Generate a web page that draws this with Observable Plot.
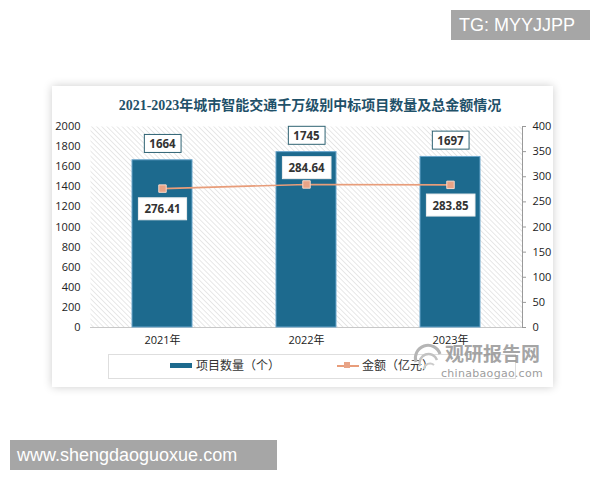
<!DOCTYPE html>
<html>
<head>
<meta charset="utf-8">
<script src="https://cdn.jsdelivr.net/npm/d3@7"></script>
<script src="https://cdn.jsdelivr.net/npm/@observablehq/plot@0.6"></script>
<style>
  body { margin: 0; background: #fff; }
  #wrap { position: relative; width: 600px; height: 480px; overflow: hidden; font-family: "Noto Sans CJK SC", "Open Sans", sans-serif; }
  #card { position: absolute; left: 52px; top: 86px; width: 501px; height: 301px; background: #fff; box-shadow: 0 0 9px rgba(0,0,0,0.2); }
  #title { position: absolute; left: 52px; width: 516px; top: 94px; text-align: center; font: bold 14px "Liberation Serif", "Noto Sans CJK SC", serif; color: #1f5169; white-space: nowrap; }
  #chart { position: absolute; left: 0; top: 0; }
  #legendbox { position: absolute; left: 108px; top: 354px; width: 406px; height: 23px; border: 1px solid #dedede; }
  .lg { position: absolute; font-size: 12px; color: #333; line-height: 14px; }
  .wm { position: absolute; background: #a6a6a6; color: #fff; font-family: "Liberation Sans", Arial, sans-serif; font-size: 18px; line-height: 30px; }
  #brand { position: absolute; left: 445px; top: 341px; font: bold 19px "Noto Sans CJK SC", sans-serif; line-height: 24px; color: #8f8f8f; opacity: 0.8; }
  #brand2 { position: absolute; left: 441px; top: 367px; font: 11px "DejaVu Sans", sans-serif; line-height: 13px; color: #9d9d9d; letter-spacing: 0.3px; }
</style>
</head>
<body>
<div id="wrap">
  <div id="card"></div>
  <div id="title">2021-2023年城市智能交通千万级别中标项目数量及总金额情况</div>
  <div id="legendbox"></div>
  <div id="chart"></div>
  <div id="legend"></div>
  <div id="brand">观研报告网</div>
  <div id="brand2">chinabaogao.com</div>
  <svg style="position:absolute;left:410px;top:340px" width="36" height="36">
    <path d="M6,22 A12,12 0 0 1 30,14" fill="none" stroke="#b5b5b5" stroke-width="3"/>
    <path d="M10,26 A9,9 0 0 1 27,20" fill="none" stroke="#c2c2c2" stroke-width="2.5"/>
    <path d="M14,29 A6,6 0 0 1 24,25" fill="none" stroke="#cccccc" stroke-width="2"/>
  </svg>
  <div class="wm" style="left:451px;top:10px;width:139px;padding-left:8px;box-sizing:border-box;">TG: MYYJJPP</div>
  <div class="wm" style="left:10px;top:440px;width:267px;padding-left:7px;box-sizing:border-box;">www.shengdaoguoxue.com</div>
</div>
<script>
const years = ["2021年", "2022年", "2023年"];
const counts = [1664, 1745, 1697];
const amounts = [276.41, 284.64, 283.85];
const leftTicks = [0, 200, 400, 600, 800, 1000, 1200, 1400, 1600, 1800, 2000];
const rightTicks = [0, 50, 100, 150, 200, 250, 300, 350, 400];
const countLabel = "项目数量（个）";
const amountLabel = "金额（亿元）";

const ratio = 2000 / 400;
const data = years.map((year, i) => ({year, count: counts[i], amount: amounts[i]}));

const barColor = "#1d6a8e";
const lineColor = "#e89d7a";

const plot = Plot.plot({
  width: 600,
  height: 480,
  marginLeft: 90,
  marginRight: 78,
  marginTop: 126,
  marginBottom: 153,
  style: {background: "transparent", fontFamily: "'Open Sans', 'Noto Sans CJK SC', sans-serif", fontSize: "11px", color: "#333"},
  x: {domain: years, paddingInner: 0.58, paddingOuter: 0.29, label: null},
  y: {domain: [0, 2000], label: null},
  marks: [
    Plot.frame({fill: "url(#hatch)", stroke: null}),
    Plot.frame({anchor: "right", stroke: "#999"}),
    Plot.ruleY([0], {stroke: "#c8c8c8"}),
    Plot.barY(data, {x: "year", y: "count", fill: barColor, stroke: "#6aa6cc", strokeWidth: 1}),
    Plot.axisX({tickSize: 0, tickPadding: 9, fontSize: 11, fill: "#222"}),
    Plot.axisY(leftTicks, {tickSize: 0, tickPadding: 10, fill: "#222", tickFormat: d => String(d)}),
    Plot.axisY(rightTicks.map(v => v * ratio), {anchor: "right", tickSize: 3, tickPadding: 7, stroke: "#999", fill: "#222", tickFormat: d => String(d / ratio)}),
    Plot.line(data, {x: "year", y: d => d.amount * ratio, stroke: lineColor, strokeWidth: 1.6}),
    Plot.dot(data, {x: "year", y: d => d.amount * ratio, symbol: "square", r: 4.2, fill: "#e8a386", stroke: "#f7d9cb", strokeWidth: 1}),
    Plot.text(data, {x: "year", y: "count", text: d => String(d.count), dy: -16, fontWeight: "bold", fill: "#333", fontSize: 11.5}),
    Plot.text(data, {filter: (d, i) => i !== 1, x: "year", y: d => d.amount * ratio, text: d => d.amount.toFixed(2), dy: 21, fontWeight: "bold", fill: "#333", fontSize: 11.5}),
    Plot.text(data, {filter: (d, i) => i === 1, x: "year", y: d => d.amount * ratio, text: d => d.amount.toFixed(2), dy: -16, fontWeight: "bold", fill: "#333", fontSize: 11.5})
  ]
});

document.getElementById("chart").appendChild(plot);

const svg = d3.select(plot);
svg.insert("defs", ":first-child").html(
  `<pattern id="hatch" patternUnits="userSpaceOnUse" width="3.6" height="3.6" patternTransform="rotate(-45)">
     <line x1="0" y1="0" x2="0" y2="3.6" stroke="#d4d4d4" stroke-width="1.1"/>
   </pattern>`
);

// white label boxes behind the data labels
svg.selectAll('g[aria-label="text"]').each(function(_, gi) {
  const isCount = gi === 0;
  d3.select(this).selectAll("text").each(function() {
    const b = this.getBBox();
    const padX = isCount ? 5 : 6, padY = isCount ? 1.5 : 3.5;
    const r = document.createElementNS("http://www.w3.org/2000/svg", "rect");
    r.setAttribute("x", b.x - padX);
    r.setAttribute("y", b.y - padY);
    r.setAttribute("width", b.width + 2 * padX);
    r.setAttribute("height", b.height + 2 * padY);
    r.setAttribute("fill", "#fff");
    r.setAttribute("stroke", isCount ? "#2f6373" : "#eeeeee");
    r.setAttribute("stroke-width", 1);
    if (this.getAttribute("transform")) r.setAttribute("transform", this.getAttribute("transform"));
    this.parentNode.insertBefore(r, this);
  });
});

// legend
const legend = document.getElementById("legend");
legend.innerHTML = `
  <div style="position:absolute;left:170px;top:363px;width:22px;height:5px;background:${barColor}"></div>
  <div class="lg" style="left:196px;top:358px">${countLabel}</div>
  <div style="position:absolute;left:337px;top:365px;width:22px;height:1.6px;background:${lineColor}"></div>
  <div style="position:absolute;left:344px;top:362px;width:6px;height:6px;background:#e8a386"></div>
  <div class="lg" style="left:362px;top:358px">${amountLabel}</div>`;
</script>
</body>
</html>
